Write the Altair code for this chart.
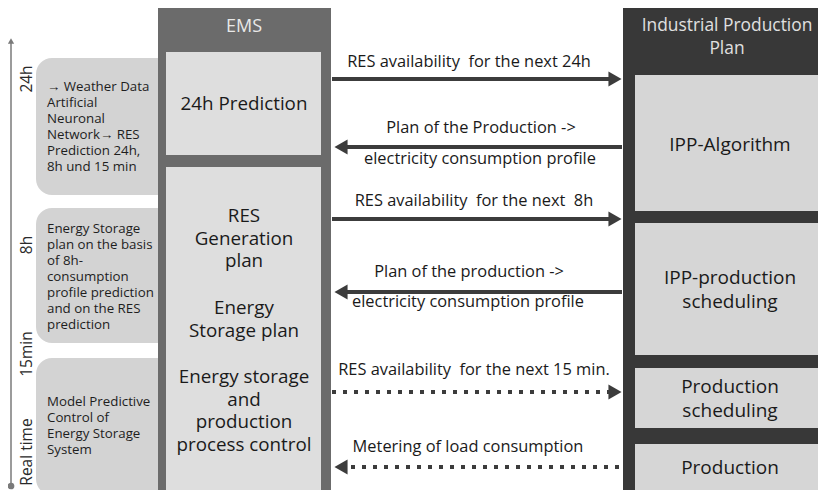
import altair as alt
import pandas as pd

FONT = "Open Sans"

# ---------------- data ----------------
# left context boxes (rounded)
left_text = [
    "→ Weather Data\nArtificial\nNeuronal\nNetwork→ RES\nPrediction 24h,\n8h und 15 min",
    "Energy Storage\nplan on the basis\nof 8h-\nconsumption\nprofile prediction\nand on the RES\nprediction",
    "Model Predictive\nControl of\nEnergy Storage\nSystem",
]
left_top = [58, 208, 358]
left_bottom = [195, 343, 495]
left_text_y = [87, 229, 402]

# time axis labels
time_labels = ["24h", "8h", "15min", "Real time"]
time_y = [79, 245, 354, 452]

# EMS column
ems_title = ["EMS"]
ems_box_top = [52, 167]
ems_box_bottom = [155, 491]
ems_text = ["24h Prediction", "RES\nGeneration\nplan", "Energy\nStorage plan",
            "Energy storage\nand\nproduction\nprocess control"]
ems_text_y = [104, 216, 308, 377]

# Industrial production plan column
ipp_title = ["Industrial Production\nPlan"]
ipp_box_top = [75, 223, 368, 444]
ipp_box_bottom = [211, 355, 428, 491]
ipp_text = ["IPP-Algorithm", "IPP-production\nscheduling", "Production\nscheduling", "Production"]
ipp_text_y = [145, 278, 387, 468]

# arrows
arrow_y = [79, 147, 219, 292, 392, 467]
arrow_dir = ["right", "left", "right", "left", "right", "left"]
arrow_style = ["solid", "solid", "solid", "solid", "dotted", "dotted"]
arrow_labels = [
    "RES availability\u00a0 for the next 24h",
    "Plan of the Production ->",
    "electricity consumption profile",
    "RES availability\u00a0 for the next\u00a0 8h",
    "Plan of the production ->",
    "electricity consumption profile",
    "RES availability\u00a0 for the next 15 min.",
    "Metering of load consumption",
]
arrow_label_y = [62, 128, 159, 201, 272, 302, 370, 447]
arrow_label_x = [469, 481, 480, 474, 469, 468, 474, 468]

# ---------------- scales ----------------
xs = alt.Scale(domain=[8, 818], nice=False, zero=False)
ys = alt.Scale(domain=[8, 490], nice=False, zero=False, reverse=True)


def X(f="x"):
    return alt.X(f + ":Q", scale=xs, axis=None)


def Y(f="y"):
    return alt.Y(f + ":Q", scale=ys, axis=None)


# ---------------- layers ----------------
left_df = pd.DataFrame({"x": [36] * 3, "x2": [200] * 3, "y": left_top, "y2": left_bottom,
                        "tx": [47] * 3, "ty": left_text_y, "t": left_text})
left_boxes = alt.Chart(left_df).mark_rect(color="#d3d3d3", cornerRadius=16).encode(
    x=X(), x2="x2", y=Y(), y2="y2")
left_texts = alt.Chart(left_df).mark_text(
    align="left", baseline="middle", font=FONT, fontSize=13.3, lineHeight=16,
    lineBreak="\n", color="#1e1e1e").encode(x=X("tx"), y=Y("ty"), text="t:N")

# time axis
axis_df = pd.DataFrame({"x": [11], "y": [42], "y2": [486]})
time_rule = alt.Chart(axis_df).mark_rule(color="#7a7a7a", strokeWidth=1.5).encode(
    x=X(), y=Y(), y2="y2")
head_df = pd.DataFrame({"x": [11], "y": [41]})
time_head = alt.Chart(head_df).mark_point(shape="triangle-up", filled=True, size=40,
                                          color="#7a7a7a", opacity=1).encode(x=X(), y=Y())
dot_df = pd.DataFrame({"x": [11], "y": [486]})
time_dot = alt.Chart(dot_df).mark_point(shape="circle", filled=True, size=45,
                                        color="#7a7a7a", opacity=1).encode(x=X(), y=Y())
time_df = pd.DataFrame({"x": [27] * 4, "y": time_y, "t": time_labels})
time_texts = alt.Chart(time_df).mark_text(
    angle=270, align="center", baseline="middle", font=FONT, fontSize=15.5,
    color="#2a2a2a").encode(x=X(), y=Y(), text="t:N")

# EMS column
ems_bg_df = pd.DataFrame({"x": [158], "x2": [331], "y": [6], "y2": [500]})
ems_bg = alt.Chart(ems_bg_df).mark_rect(color="#6b6b6b").encode(x=X(), x2="x2", y=Y(), y2="y2")
ems_box_df = pd.DataFrame({"x": [166] * 2, "x2": [321] * 2, "y": ems_box_top, "y2": ems_box_bottom})
ems_boxes = alt.Chart(ems_box_df).mark_rect(color="#dedede").encode(x=X(), x2="x2", y=Y(), y2="y2")
ems_title_df = pd.DataFrame({"x": [244], "y": [27], "t": ems_title})
ems_title_t = alt.Chart(ems_title_df).mark_text(
    font=FONT, fontSize=18, color="#e8e8e8", baseline="middle").encode(x=X(), y=Y(), text="t:N")
ems_text_df = pd.DataFrame({"x": [244] * 4, "y": ems_text_y, "t": ems_text})
ems_texts = alt.Chart(ems_text_df).mark_text(
    font=FONT, fontSize=18.8, color="#1a1a1a", baseline="middle", lineBreak="\n",
    lineHeight=22.5).encode(x=X(), y=Y(), text="t:N")

# IPP column
ipp_bg_df = pd.DataFrame({"x": [623], "x2": [840], "y": [6], "y2": [500]})
ipp_bg = alt.Chart(ipp_bg_df).mark_rect(color="#383838").encode(x=X(), x2="x2", y=Y(), y2="y2")
ipp_box_df = pd.DataFrame({"x": [635] * 4, "x2": [840] * 4, "y": ipp_box_top, "y2": ipp_box_bottom})
ipp_boxes = alt.Chart(ipp_box_df).mark_rect(color="#d6d6d6").encode(x=X(), x2="x2", y=Y(), y2="y2")
ipp_title_df = pd.DataFrame({"x": [727], "y": [26], "t": ipp_title})
ipp_title_t = alt.Chart(ipp_title_df).mark_text(
    font=FONT, fontSize=17.4, color="#e0e0e0", baseline="middle", lineBreak="\n",
    lineHeight=23).encode(x=X(), y=Y(), text="t:N")
ipp_text_df = pd.DataFrame({"x": [730] * 4, "y": ipp_text_y, "t": ipp_text})
ipp_texts = alt.Chart(ipp_text_df).mark_text(
    font=FONT, fontSize=19, color="#1a1a1a", baseline="middle", lineBreak="\n",
    lineHeight=23.5).encode(x=X(), y=Y(), text="t:N")

# arrows
arr_df = pd.DataFrame({
    "y": arrow_y, "dir": arrow_dir, "style": arrow_style,
    "x": [332 if d == "right" else 340 for d in arrow_dir],
    "x2": [612 if d == "right" else 622 for d in arrow_dir],
    "hx": [615 if d == "right" else 341 for d in arrow_dir],
    "shape": ["triangle-right" if d == "right" else "triangle-left" for d in arrow_dir],
})
solid_lines = alt.Chart(arr_df[arr_df["style"] == "solid"]).mark_rule(
    color="#3c3c3c", strokeWidth=4).encode(x=X(), x2="x2", y=Y())
dotted_lines = alt.Chart(arr_df[arr_df["style"] == "dotted"]).mark_rule(
    color="#3c3c3c", strokeWidth=4, strokeDash=[4, 7], strokeCap="butt").encode(x=X(), x2="x2", y=Y())
heads = alt.Chart(arr_df).mark_point(filled=True, size=230, color="#3c3c3c", opacity=1).encode(
    x=X("hx"), y=Y(),
    shape=alt.Shape("shape:N", scale=None, legend=None))
lab_df = pd.DataFrame({"x": arrow_label_x, "y": arrow_label_y, "t": arrow_labels})
arrow_texts = alt.Chart(lab_df).mark_text(
    font=FONT, fontSize=16.4, color="#1a1a1a", baseline="middle").encode(x=X(), y=Y(), text="t:N")

chart = alt.layer(
    left_boxes, left_texts, time_rule, time_head, time_dot, time_texts,
    ems_bg, ems_boxes, ems_title_t, ems_texts,
    ipp_bg, ipp_boxes, ipp_title_t, ipp_texts,
    solid_lines, dotted_lines, heads, arrow_texts,
).properties(
    width=810, height=482, padding=0, autosize="none", background="white"
).configure_view(stroke=None)

chart.save("out.html", embed_options={"renderer": "svg", "actions": False})
